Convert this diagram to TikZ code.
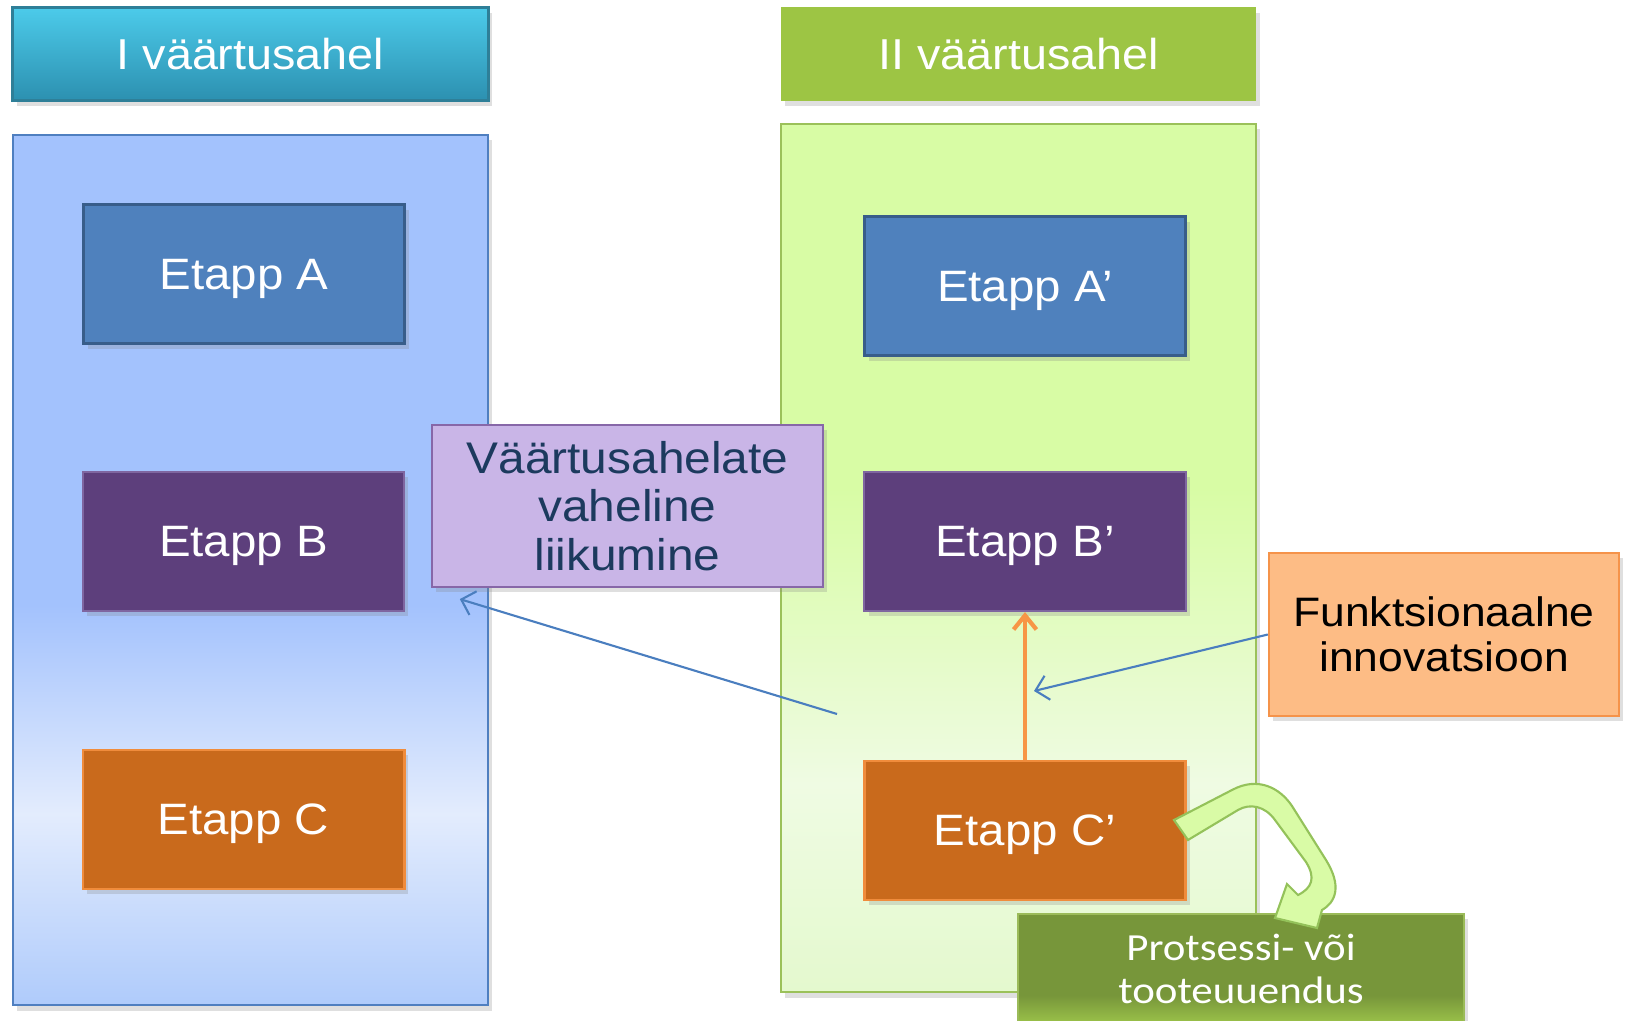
\documentclass[tikz,border=0pt]{standalone}
\usepackage{fontspec}
\usetikzlibrary{arrows.meta}
\usetikzlibrary{shadows}
\newfontfamily\arialw[FakeStretch=1.08]{Liberation Sans}
\newfontfamily\calibw[FakeStretch=1.12]{Carlito}

\definecolor{tonetop}{HTML}{4CCBEA}
\definecolor{tonebot}{HTML}{2C90B0}
\definecolor{toneline}{HTML}{2E7F98}
\definecolor{ttwofill}{HTML}{9DC544}
\definecolor{lptop}{HTML}{A3C2FD}
\definecolor{lplight}{HTML}{E3ECFD}
\definecolor{lpbot}{HTML}{AFCBFB}
\definecolor{lpline}{HTML}{4F7FC0}
\definecolor{rptop}{HTML}{D8FCA5}
\definecolor{rplight}{HTML}{EFFBE3}
\definecolor{rpbot}{HTML}{E4F9CE}
\definecolor{rpline}{HTML}{9BC15A}
\definecolor{afill}{HTML}{4F81BD}
\definecolor{aline}{HTML}{385D8A}
\definecolor{bfill}{HTML}{5D3F7C}
\definecolor{bline}{HTML}{7F66A0}
\definecolor{cfill}{HTML}{C96A1C}
\definecolor{cline}{HTML}{F08C3C}
\definecolor{vfill}{HTML}{C9B5E7}
\definecolor{vline}{HTML}{8767A8}
\definecolor{vtext}{HTML}{1C3A5E}
\definecolor{ffill}{HTML}{FDBC85}
\definecolor{fline}{HTML}{F5934A}
\definecolor{pdark}{HTML}{77963A}
\definecolor{plight}{HTML}{9CC34A}
\definecolor{pline}{HTML}{9BBB59}
\definecolor{cafill}{HTML}{D9FBA6}
\definecolor{caline}{HTML}{94C25A}
\definecolor{bluearr}{HTML}{4A7EBF}
\definecolor{orarr}{HTML}{F79646}

\pgfdeclareverticalshading{leftpanel}{100bp}{color(0bp)=(lpbot); color(25bp)=(lpbot); color(36bp)=(lplight); color(48bp)=(lptop); color(100bp)=(lptop)}
\pgfdeclareverticalshading{rightpanel}{100bp}{color(0bp)=(rpbot); color(25bp)=(rpbot); color(37bp)=(rplight); color(54bp)=(rptop); color(100bp)=(rptop)}
\pgfdeclareverticalshading{protsshade}{100bp}{color(0bp)=(plight); color(25bp)=(plight); color(38bp)=(pdark); color(100bp)=(pdark)}

\begin{document}
\begin{tikzpicture}[x=0.01cm,y=-0.01cm,
	shade box/.style={drop shadow={shadow xshift=1.2pt,shadow yshift=-1.5pt,opacity=0.25}},
	title/.style={shade box,minimum width=4.75cm,minimum height=0.93cm,text depth=0pt,text=white,font=\arialw\fontsize{12.3}{14}\selectfont},
	panel/.style={minimum width=4.75cm,line width=0.6pt,shade box},
	etapp/.style={shade box,minimum width=3.21cm,minimum height=1.39cm,text depth=0pt,text=white,font=\arialw\fontsize{12.5}{15}\selectfont},
	thinarr/.style={bluearr,line width=0.6pt,-{Straight Barb[length=3.5pt,width=7pt]}},
	thickarr/.style={orarr,line width=1.2pt,-{Straight Barb[length=4pt,width=6.5pt]}}]

	\useasboundingbox (0,0) rectangle (1626,1021);

	% Draw headers
	\node[title,draw=toneline,line width=0.8pt,top color=tonetop,bottom color=tonebot] (t1) at (250.5,54) {I väärtusahel};
	\node[title,fill=ttwofill] (t2) at (1018.5,54) {II väärtusahel};

	% Draw panels
	\node[panel,draw=lpline,shading=leftpanel,minimum height=8.7cm] (p1) at (250.5,570) {};
	\node[panel,draw=rpline,shading=rightpanel,minimum height=8.68cm] (p2) at (1018.5,558) {};

	% Draw stages
	\node[etapp,draw=aline,line width=1pt,fill=afill] (ea) at (244,274) {Etapp A};
	\node[etapp,draw=bline,line width=0.6pt,fill=bfill] (eb) at (243.5,541.5) {Etapp B};
	\node[etapp,draw=cline,line width=0.8pt,fill=cfill] (ec) at (243.5,819.5) {Etapp C};
	\node[etapp,draw=aline,line width=1pt,fill=afill] (ea2) at (1025,286) {Etapp A’};
	\node[etapp,draw=bline,line width=0.6pt,fill=bfill] (eb2) at (1025,541.5) {Etapp B’};
	\node[etapp,draw=cline,line width=0.8pt,fill=cfill] (ec2) at (1025,830.5) {Etapp C’};

	% Draw labels
	\node[shade box,draw=vline,line width=0.6pt,fill=vfill,minimum width=3.91cm,minimum height=1.62cm,align=center,text=vtext,font=\arialw\fontsize{12.6}{13.8}\selectfont] (vahe) at (627.5,506) {Väärtusahelate\\vaheline\\liikumine};
	\node[shade box,draw=fline,line width=0.6pt,fill=ffill,minimum width=3.5cm,minimum height=1.63cm,align=center,font=\arialw\fontsize{11.7}{12.8}\selectfont] (funk) at (1444,634.5) {Funktsionaalne\\innovatsioon};
	\node[shade box,draw=pline,line width=0.6pt,shading=protsshade,minimum width=4.46cm,minimum height=1.1cm,anchor=north,align=center,text=white,font=\calibw\fontsize{10.9}{12.2}\selectfont] (prots) at (1241,913) {Protsessi- või\\tooteuuendus};

	% Draw arrows
	\coordinate (mv) at (837,714);
	\coordinate (ftip) at (1034,691);
	\draw[thinarr] (mv) -- ([shift={(29,11)}]vahe.south west);
	\draw[thickarr] (ec2.north) -- (eb2.south);
	\draw[thinarr] (funk.west) -- (ftip);

	% Draw curved arrow
	\draw[caline,line width=0.6pt,fill=cafill] (1174,820) -- (1232,790)
		.. controls (1258,776) and (1280,788) .. (1292,806) -- (1326,860)
		.. controls (1342,886) and (1336,902) .. (1322,910) -- (1317,928) -- (1275,918) -- (1287,884) -- (1298,895)
		.. controls (1312,888) and (1316,878) .. (1306,862) -- (1275,820)
		.. controls (1265,806) and (1250,803) .. (1238,810) -- (1188,840) -- cycle;

\end{tikzpicture}
\end{document}
